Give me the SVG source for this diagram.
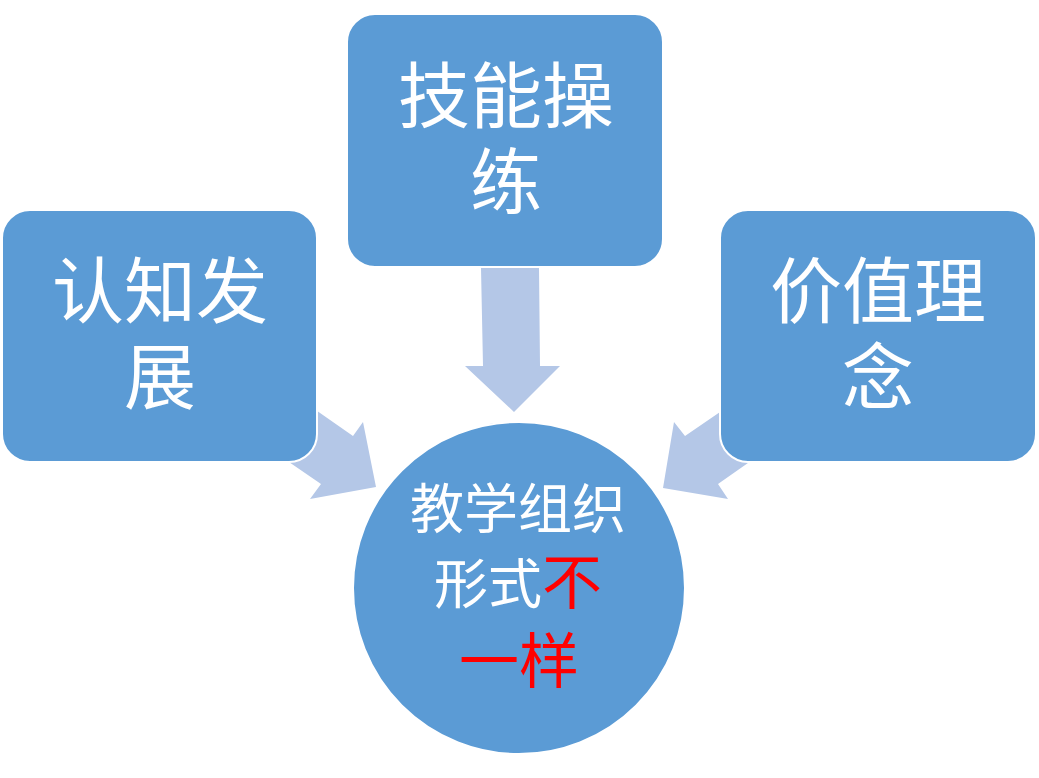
<svg xmlns="http://www.w3.org/2000/svg" width="1039" height="778" viewBox="0 0 1039 778">
<style>
.box{fill:#5B9BD5;stroke:#FFFFFF;stroke-width:2}
.arr{fill:#B4C7E7}
.t{font-family:"Liberation Sans","Noto Sans CJK SC",sans-serif;fill:#FFFFFF;text-anchor:middle}
.big{font-size:72px}
.mid{font-size:54px}
.red{fill:#FF0000;font-size:60px}
</style>
<rect width="1039" height="778" fill="#FFFFFF"/>
<g id="connectors">
<polygon class="arr" points="481,268 539,268 540,366 560,366 514,412 465,366 483,366"/>
<polygon class="arr" points="300,399 353,436 363,422 376,487 310,499 321,484 270,449"/>
<polygon class="arr" points="739,399 685,436 674,422 663,488 728,499 718,484 768,449"/>
</g>
<g id="node-cognition">
<rect class="box" x="2" y="210" width="315" height="252" rx="28"/>
<text class="t big" x="160" y="317">认知发</text>
<text class="t big" x="160" y="403">展</text>
</g>
<g id="node-skill">
<rect class="box" x="347" y="14" width="316" height="253" rx="28"/>
<text class="t big" x="506" y="122">技能操</text>
<text class="t big" x="506" y="208">练</text>
</g>
<g id="node-values">
<rect class="box" x="720" y="210" width="316" height="252" rx="28"/>
<text class="t big" x="878" y="317">价值理</text>
<text class="t big" x="878" y="403">念</text>
</g>
<g id="node-center">
<circle class="box" cx="519" cy="588" r="166"/>
<text class="t mid" x="518" y="529">教学组织</text>
<text class="t mid" x="518" y="604">形式<tspan class="red">不</tspan></text>
<text class="t red" x="519" y="683">一样</text>
</g>
</svg>
